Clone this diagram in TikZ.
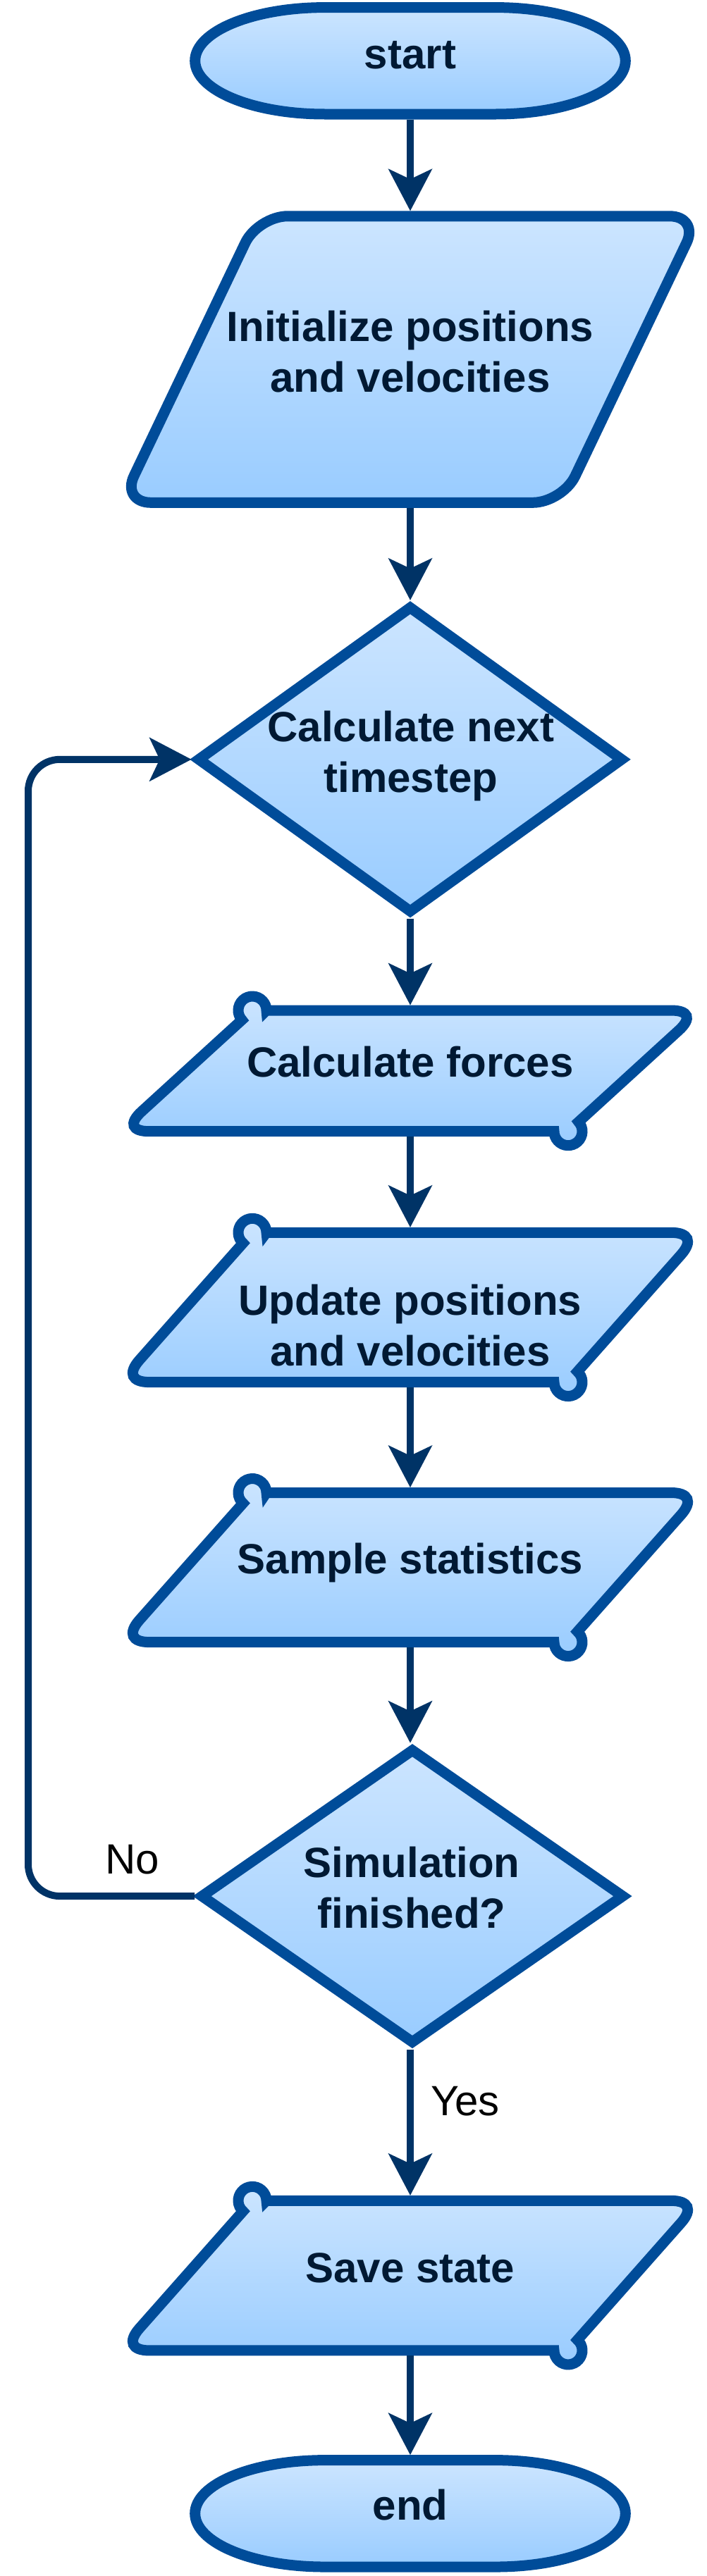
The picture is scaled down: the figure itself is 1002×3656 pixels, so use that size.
\documentclass[tikz,border=0pt]{standalone}
\usepackage{fontspec}
\setmainfont{Liberation Sans}
\usetikzlibrary{arrows.meta,shapes.geometric,calc}
\definecolor{shapeline}{HTML}{004C99}
\definecolor{arrowc}{HTML}{003366}
\definecolor{fillTop}{HTML}{CCE5FF}
\definecolor{fillBot}{HTML}{99CCFF}
\definecolor{textc}{HTML}{001933}
\newcommand{\Ta}{\rule{0pt}{50pt}}
\newcommand{\Tb}{\rule[-50pt]{0pt}{50pt}}
% parallelogram with knobs at the obtuse corners; #1 top, #2 bottom (px, downwards)
\newcommand{\knobpara}[2]{%
  \pgfmathsetmacro{\pT}{-(#1)}%
  \pgfmathsetmacro{\pB}{-(#2)}%
  \pgfmathsetmacro{\pH}{(#2)-(#1)}%
  \pgfmathsetmacro{\pL}{100*sqrt((\pH/100)*(\pH/100)+3.5344)}%
  \pgfmathsetmacro{\ux}{188/\pL}%
  \pgfmathsetmacro{\uy}{\pH/\pL}%
  \pgfmathsetmacro{\ang}{atan2(\pH,188)}%
  \pgfmathsetmacro{\angb}{180+\ang}%
  \path[shp] (378,\pT) -- (952,\pT)
    .. controls (977.2,\pT) and ({994-16.8*\ux},{\pT-16.8*\uy}) .. ({994-42*\ux},{\pT-42*\uy})
    -- ({806+20*\ux},{\pB+20*\uy})
    arc[start angle=\ang, end angle=-180, radius=20pt]
    -- (212,\pB)
    .. controls (186.8,\pB) and ({170+16.8*\ux},{\pB+16.8*\uy}) .. ({170+42*\ux},{\pB+42*\uy})
    -- ({358-20*\ux},{\pT-20*\uy})
    arc[start angle=\angb, end angle=0, radius=20pt]
    -- cycle;
}
% terminal: #1 cx, #2 cy (px, downwards)
\newcommand{\termshape}[2]{%
  \path[shp] ({#1-121.5},{-(#2)+75.7}) -- ({#1+121.5},{-(#2)+75.7})
    arc[start angle=90,end angle=-90,x radius=183.8pt,y radius=75.7pt]
    -- ({#1-121.5},{-(#2)-75.7})
    arc[start angle=270,end angle=90,x radius=183.8pt,y radius=75.7pt] -- cycle;
}
\tikzset{
  shp/.style={draw=shapeline, line width=15pt, top color=fillTop, bottom color=fillBot},
  anch/.style={rectangle, draw=none, fill=none, inner sep=0pt, outer sep=0pt},
  dia/.style={shape=diamond, shp, inner sep=0pt},
  txt/.style={inner sep=0pt, text=textc, font=\bfseries\fontsize{60}{72}\selectfont, align=center},
  lab/.style={inner sep=0pt, text=black, font=\fontsize{60}{72}\selectfont},
  flow/.style={draw=arrowc, line width=10pt,
    -{Stealth[length=60pt, width=63pt, inset=15pt, line width=0pt]}},
}
\begin{document}
\begin{tikzpicture}[x=1pt,y=1pt]
\useasboundingbox (0,0) rectangle (1002,-3656);

% shapes
\termshape{582}{86.3}
\node[anch, minimum width=626pt, minimum height=166.4pt] (start) at (582,-86.3) {};

\path[shp, rounded corners=42pt] (366,-306.8) -- (992,-306.8) -- (798,-713.3) -- (172,-713.3) -- cycle;
\node[anch, minimum width=640pt, minimum height=421.5pt] (init) at (582,-510.05) {};

\node[dia, minimum width=606pt, minimum height=437pt] (calc) at (582,-1077.8) {};

\knobpara{1434}{1605.7}
\node[anch, minimum width=640pt, minimum height=186.7pt] (forces) at (582,-1519.85) {};

\knobpara{1749.3}{1961.6}
\node[anch, minimum width=640pt, minimum height=227.3pt] (update) at (582,-1855.45) {};

\knobpara{2118.5}{2330.6}
\node[anch, minimum width=640pt, minimum height=227.1pt] (sample) at (582,-2224.55) {};

\node[dia, minimum width=603pt, minimum height=420pt] (fin) at (585,-2691.1) {};

\knobpara{3123.3}{3335.9}
\node[anch, minimum width=640pt, minimum height=227.6pt] (save) at (582,-3229.6) {};

\termshape{582}{3567.3}
\node[anch, minimum width=626pt, minimum height=166.4pt] (endnode) at (582,-3567.3) {};

% texts
\node[txt] (start-t) at (582,-97.2) {\Ta start\Tb};
\node[txt] (init-t) at (582,-520.1) {\Ta Initialize positions\\and velocities\Tb};
\node[txt] (calc-t) at (583,-1088.3) {\Ta Calculate next\\timestep\Tb};
\node[txt] (forces-t) at (582,-1528.8) {\Ta Calculate forces\Tb};
\node[txt] (update-t) at (582,-1902.5) {\Ta Update positions\\and velocities\Tb};
\node[txt] (sample-t) at (582,-2233.8) {\Ta Sample statistics\Tb};
\node[txt] (fin-t) at (584,-2700.3) {\Ta Simulation\\finished?\Tb};
\node[txt] (save-t) at (582,-3239.2) {\Ta Save state\Tb};
\node[txt] (end-t) at (582,-3576.9) {\Ta end\Tb};

\node[lab] (no) at (187.7,-2659.8) {\Ta No\Tb};
\node[lab] (yes) at (660,-3002.6) {\Ta Yes\Tb};

% connectors
\draw[flow] (start.south) -- (init.north);
\draw[flow] (init.south) -- (calc.north);
\draw[flow] (calc.south) -- (forces.north);
\draw[flow] (forces.south) -- (update.north);
\draw[flow] (update.south) -- (sample.north);
\draw[flow] (sample.south) -- (sample.south |- fin.north);
\draw[flow] (save.north |- fin.south) -- (save.north);
\draw[flow] (save.south) -- (endnode.north);
\coordinate (lb) at (40,-2691.1);
\coordinate (lt) at (40,-1077.8);
\draw[flow, rounded corners=45pt] (fin.west) -- (lb) -- (lt) -- (calc.west);
\end{tikzpicture}
\end{document}
